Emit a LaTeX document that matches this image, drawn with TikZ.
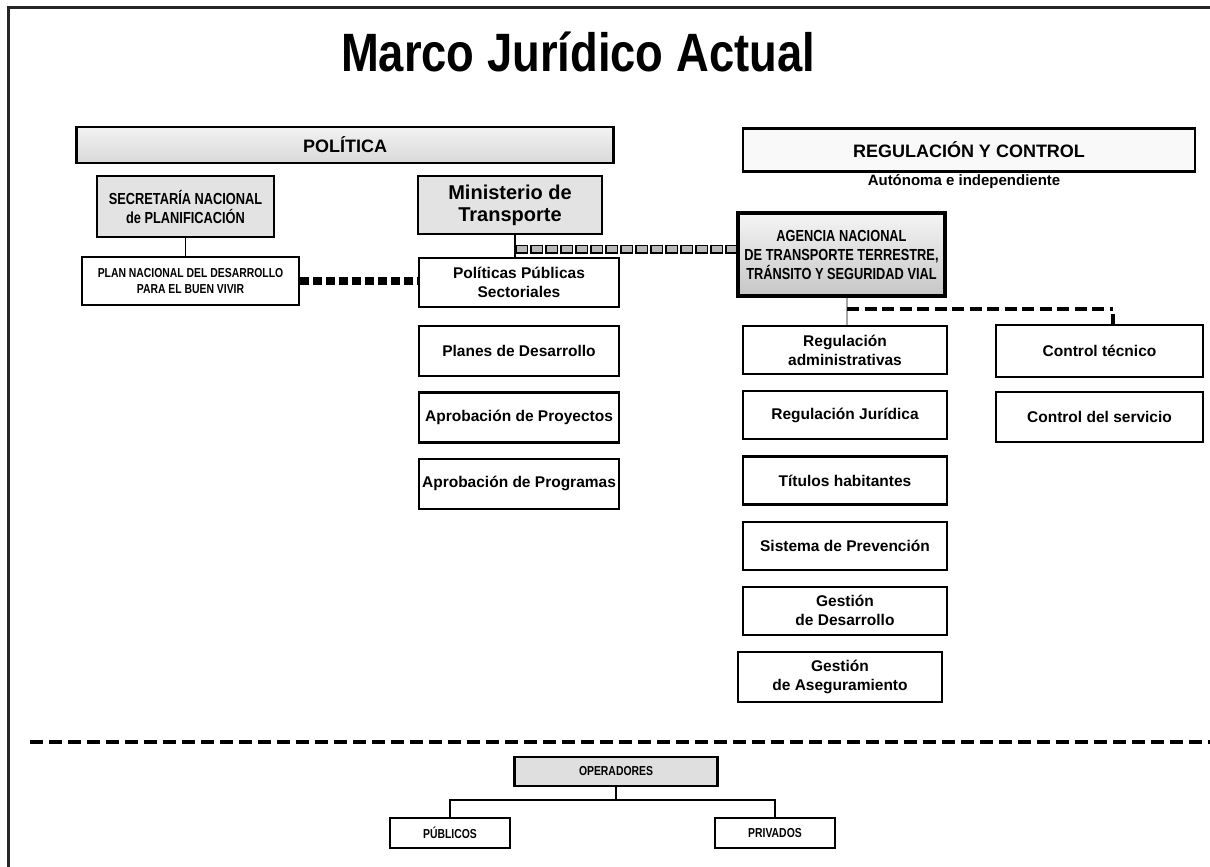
\documentclass[tikz,border=0pt]{standalone}
\usepackage{fontspec}
\setmainfont{Liberation Sans}
\newfontfamily\narrowsans{Liberation Sans}[FakeStretch=0.8]
\newfontfamily\titlesans{Liberation Sans}[FakeStretch=0.84]
\usetikzlibrary{positioning,calc}

\begin{document}
\begin{tikzpicture}[
  x=1pt, y=-1pt,
  node distance=15pt and 40pt,
  box/.style={draw, line width=2.2pt, fill=white, minimum width=204pt, minimum height=48pt,
              align=center, inner sep=2pt, font=\fontsize{15.5}{19}\selectfont\bfseries},
  colbox/.style={box, minimum width=200pt, minimum height=50pt},
  graybox/.style={box, fill=gray!22},
  narrowbox/.style={box, font=\narrowsans\fontsize{16}{19}\selectfont\bfseries},
  agencybox/.style={narrowbox, line width=3.2pt, top color=gray!8, bottom color=gray!45},
  headbar/.style={draw, line width=2.4pt, minimum height=36pt, inner sep=2pt,
                  font=\fontsize{18}{21}\selectfont\bfseries},
  link/.style={line width=1.8pt},
  graylink/.style={line width=2.2pt, gray!70},
  blackdots/.style={line width=8pt, dash pattern=on 9pt off 4pt},
  sqchain/.style={line width=9pt, dash pattern=on 13pt off 2pt,
                  postaction={draw=gray!55, line width=5.5pt, dash pattern=on 10pt off 5pt, dash phase=13.5pt}},
  blackdash/.style={line width=4.5pt, dash pattern=on 12pt off 5.5pt},
  sepline/.style={line width=4pt, dash pattern=on 13pt off 6pt},
]
\useasboundingbox (0,0) rectangle (1210,867);

% frame and title
\draw[line width=3pt, black!85] (8,867) -- (8,8) -- (1210,8);
\node[anchor=base, font=\titlesans\fontsize{54}{60}\selectfont\bfseries] (title) at (578,72) {Marco Jurídico Actual};

% Politica
\node[headbar, minimum width=537pt, top color=gray!10, bottom color=gray!30] (politica) at (345,145) {POLÍTICA};
\node[graybox, narrowbox, fill=gray!22, minimum width=177pt, minimum height=61pt] (senplades) at (185.5,206.5)
  {SECRETARÍA NACIONAL\\de PLANIFICACIÓN};
\node[narrowbox, minimum width=217pt, minimum height=48pt, font=\narrowsans\fontsize{13}{16}\selectfont\bfseries] (plan) at (190.5,281)
  {PLAN NACIONAL DEL DESARROLLO\\PARA EL BUEN VIVIR};
\node[graybox, minimum width=184pt, minimum height=58pt, font=\fontsize{20}{22}\selectfont\bfseries] (mintrans) at (510,205)
  {Ministerio de\\Transporte};
\node[colbox, minimum height=49pt] (polsec) at (519,282.5) {Políticas Públicas\\Sectoriales};
\node[colbox, below=17pt of polsec] (planes) {Planes de Desarrollo};
\node[colbox, below=14pt of planes] (aproy) {Aprobación de Proyectos};
\node[colbox, below=14pt of aproy] (aprog) {Aprobación de Programas};

% Regulacion y control
\node[headbar, minimum width=452pt, minimum height=43pt, fill=gray!5] (regctrl) at (969,150) {REGULACIÓN Y CONTROL};
\node[font=\fontsize{15}{17}\selectfont\bfseries] (autonoma) at (964,182) {Autónoma e independiente};
\node[agencybox, minimum width=207pt, minimum height=83pt] (agencia) at (841.5,254.5)
  {AGENCIA NACIONAL\\DE TRANSPORTE TERRESTRE,\\TRÁNSITO Y SEGURIDAD VIAL};
\node[box] (regadm) at (845,350) {Regulación\\administrativas};
\node[box, below=of regadm] (regjur) {Regulación Jurídica};
\node[box, below=of regjur] (titulos) {Títulos habitantes};
\node[box, below=of titulos] (sisprev) {Sistema de Prevención};
\node[box, below=of sisprev] (gesdes) {Gestión\\de Desarrollo};
\node[box, minimum height=50pt, below=of gesdes, xshift=-5pt] (gesase) {Gestión\\de Aseguramiento};
\node[box, minimum width=207pt, minimum height=52pt] (ctec) at (1099.5,351) {Control técnico};
\node[box, minimum width=207pt, minimum height=50pt, below=13pt of ctec] (cserv) {Control del servicio};

% Operadores
\coordinate (sepL) at (30,742);
\coordinate (sepR) at (1210,742);
\draw[sepline] (sepL) -- (sepR);
\node[graybox, narrowbox, fill=gray!25, minimum width=203pt, minimum height=29pt,
      font=\narrowsans\fontsize{13}{15}\selectfont\bfseries] (oper) at (616,771.5) {OPERADORES};
\node[narrowbox, minimum width=120pt, minimum height=30pt,
      font=\narrowsans\fontsize{13}{15}\selectfont\bfseries] (publicos) at (450,833) {PÚBLICOS};
\node[narrowbox, minimum width=120pt, minimum height=30pt,
      font=\narrowsans\fontsize{13}{15}\selectfont\bfseries] (privados) at (775,833) {PRIVADOS};

% connectors
\coordinate (minjoin) at (515,249);
\coordinate (agdrop) at (847,309);
\coordinate (ctdrop) at (1113,309);
\coordinate (operbus) at (616,800);
\draw[link] (senplades.south) -- (plan.north -| senplades.south);
\draw[blackdots] (plan.east) -- (polsec.west |- plan.east);
\draw[link] (mintrans.south -| minjoin) -- (polsec.north -| minjoin);
\draw[sqchain] (minjoin) -- (agencia.west |- minjoin);
\draw[graylink] (agencia.south -| agdrop) -- (regadm.north -| agdrop);
\draw[blackdash] (agdrop) -- (ctdrop);
\draw[line width=4.5pt] ([yshift=-5pt]ctdrop) -- (ctec.north -| ctdrop);
\draw[link] (oper.south) -- (operbus);
\draw[link] (publicos.north) |- (operbus) -| (privados.north);
\end{tikzpicture}
\end{document}
